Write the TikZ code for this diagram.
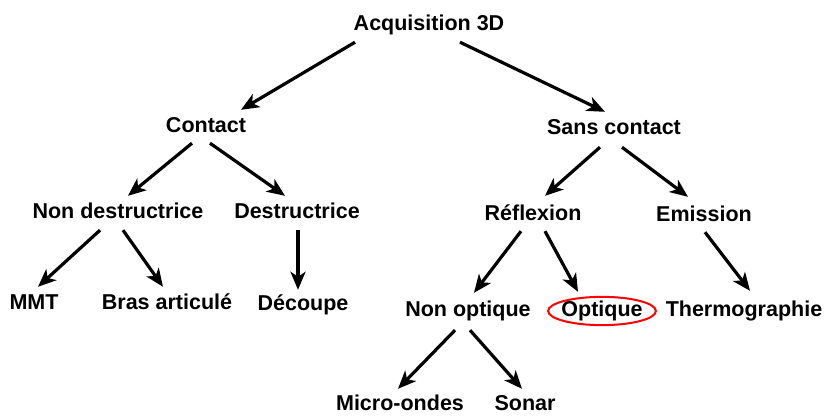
\documentclass[tikz,border=0pt]{standalone}
\usepackage{fontspec}
\setmainfont{Liberation Sans}
\usepackage{tikz}
\usetikzlibrary{shapes.geometric, arrows.meta, calc}

\begin{document}
\begin{tikzpicture}[
    x=1pt, y=-1pt,
    item/.style={inner sep=1pt, text height=15.5pt, text depth=4.5pt, font=\fontsize{21.5}{24}\selectfont\bfseries},
    chosen/.style={item, ellipse, draw=red, line width=2pt, inner xsep=-2.5pt, inner ysep=0pt},
    arrow/.style={-{Stealth[length=18pt, width=15pt, inset=5pt]}, line width=3.2pt}
]
\useasboundingbox (0,0) rectangle (825,417);

% Levels
\node[item] (acq) at (429,25) {Acquisition 3D};
\node[item] (contact) at (206,127) {Contact};
\node[item] (sans) at (614,129) {Sans contact};
\node[item] (nondes) at (118,213) {Non destructrice};
\node[item] (des) at (297,213) {Destructrice};
\node[item] (refl) at (533,215) {Réflexion};
\node[item] (emis) at (704,216) {Emission};
\node[item] (mmt) at (34,304) {MMT};
\node[item] (bras) at (167,304) {Bras articulé};
\node[item] (dec) at (303,305) {Découpe};
\node[item] (nonopt) at (468,311) {Non optique};
\node[chosen] (opt) at (602,311) {Optique};
\node[item] (thermo) at (744,311) {Thermographie};
\node[item] (micro) at (400,405) {Micro-ondes};
\node[item] (sonar) at (525,405) {Sonar};

% Arrows
\draw[arrow] ($(acq.south)+(-74,6)$) -- ($(contact.north)+(35,-6)$);
\draw[arrow] ($(acq.south)+(31,6)$) -- ($(sans.north)+(-9,-6)$);
\draw[arrow] ($(contact.south)+(-14,5)$) -- ($(nondes.north)+(10,-6)$);
\draw[arrow] ($(contact.south)+(4,5)$) -- ($(des.north)+(-12,-6)$);
\draw[arrow] ($(sans.south)+(-14,7)$) -- ($(refl.north)+(12,-8)$);
\draw[arrow] ($(sans.south)+(8,7)$) -- ($(emis.north)+(-16,-8)$);
\draw[arrow] ($(nondes.south)+(-18,6)$) -- ($(mmt.north)+(4,-6)$);
\draw[arrow] ($(nondes.south)+(5,6)$) -- ($(bras.north)+(-4,-6)$);
\draw[arrow] ($(des.south)+(1,6)$) -- ($(dec.north)+(-5,-4)$);
\draw[arrow] ($(refl.south)+(-12,5)$) -- ($(nonopt.north)+(6,-7)$);
\draw[arrow] ($(refl.south)+(12,5)$) -- ($(opt.north)+(-24,-4)$);
\draw[arrow] ($(emis.south)+(1,5)$) -- ($(thermo.north)+(6,-9)$);
\draw[arrow] ($(nonopt.south)+(-13,8)$) -- ($(micro.north)+(-2,-5)$);
\draw[arrow] ($(nonopt.south)+(2,8)$) -- ($(sonar.north)+(-3,-5)$);

\end{tikzpicture}
\end{document}
